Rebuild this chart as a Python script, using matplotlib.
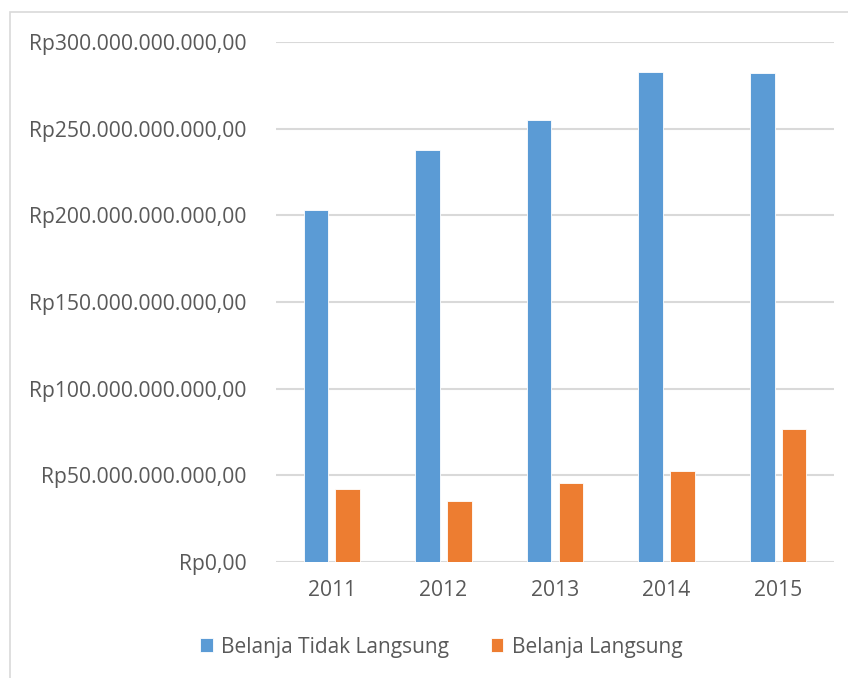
import matplotlib.pyplot as plt
from matplotlib.patches import Rectangle
import numpy as np

years = ["2011", "2012", "2013", "2014", "2015"]
# values in billions of rupiah
tidak_langsung = [202.9, 237.5, 254.8, 282.7, 282.3]
langsung = [41.9, 35.2, 45.6, 52.7, 76.7]

BLUE = "#5B9BD5"
ORANGE = "#ED7D31"
TEXT = "#595959"
GRID = "#D9D9D9"

plt.rcParams["font.family"] = ["Open Sans", "DejaVu Sans"]


def rupiah(v, pos=None):
    n = int(round(v * 1e9))
    s = f"{n:,}".replace(",", ".")
    return f"Rp{s},00"


def main():
    fig = plt.figure(figsize=(8.48, 6.78), dpi=100)

    # outer chart border (cut off at the right and bottom)
    fig.patches.append(Rectangle((10 / 848, -0.1), 1.2, 1 - 12 / 678 + 0.1,
                                 transform=fig.transFigure, fill=False,
                                 edgecolor="#D9D9D9", linewidth=1.2))

    ax = fig.add_axes([276 / 848, 116 / 678, 558 / 848, 520 / 678])
    x = np.arange(len(years))
    w = 0.22
    ax.bar(x - 0.143, tidak_langsung, w, color=BLUE, edgecolor="white",
           linewidth=0.6, label="Belanja Tidak Langsung", zorder=3)
    ax.bar(x + 0.143, langsung, w, color=ORANGE, edgecolor="white",
           linewidth=0.6, label="Belanja Langsung", zorder=3)

    ax.set_xlim(-0.5, len(years) - 0.5)
    ax.set_ylim(0, 300)
    ax.set_yticks(np.arange(0, 301, 50))
    ax.yaxis.set_major_formatter(plt.FuncFormatter(rupiah))
    ax.set_xticks(x)
    ax.set_xticklabels(years)

    ax.grid(axis="y", color=GRID, linewidth=1.5, zorder=0)
    for s in ax.spines.values():
        s.set_visible(False)
    ax.tick_params(axis="both", length=0, colors=TEXT, labelsize=15.2)
    ax.tick_params(axis="y", pad=21)
    ax.tick_params(axis="x", pad=13)

    fig.legend(loc="center", bbox_to_anchor=(441 / 848, 1 - 647 / 678),
               ncol=2, frameon=False, fontsize=15, labelcolor=TEXT,
               handlelength=0.62, handleheight=0.62, handletextpad=0.4,
               columnspacing=2.0)

    fig.savefig("out.png", dpi=100)


if __name__ == "__main__":
    main()
